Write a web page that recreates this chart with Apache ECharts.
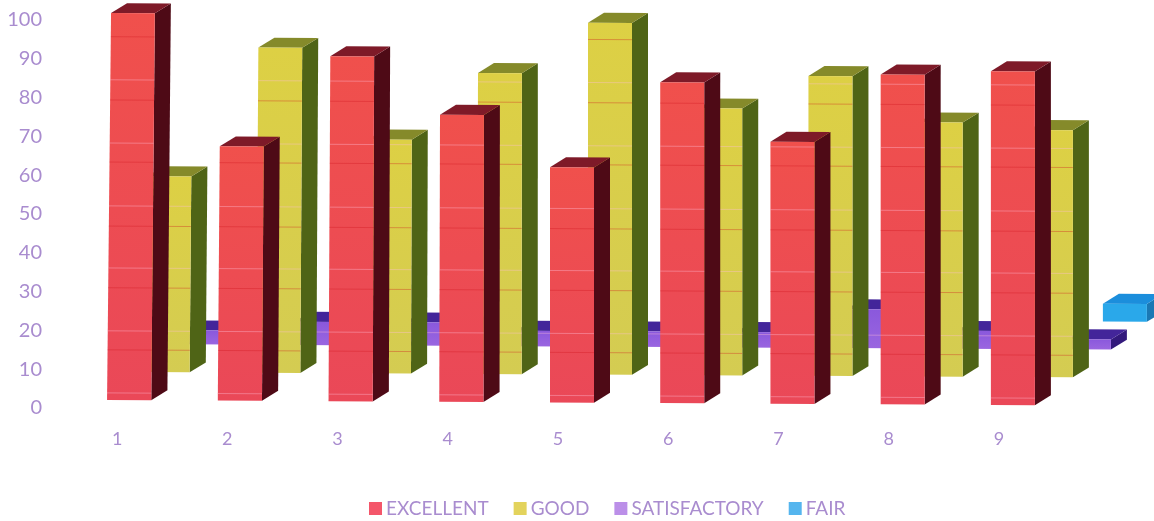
<!DOCTYPE html>
<html><head><meta charset="utf-8">
<style>html,body{margin:0;padding:0;background:#fff;overflow:hidden}#c{width:1154px;height:521px}</style>
<script src="https://cdn.jsdelivr.net/npm/echarts@6/dist/echarts.min.js"></script>
</head><body><div id="c"></div>
<script>
const categories = ['1','2','3','4','5','6','7','8','9'];
const yTicks = [0,10,20,30,40,50,60,70,80,90,100];
const excellent = [99.7,65.5,88.9,74,60.6,82.7,67.5,85,86];
const good = [50.5,83.8,60.3,77.6,90.7,68.8,77.3,65.5,63.7];
const satisfactory = [3.6,6,6,4,4,4,10,4.6,2.6];
const fair = [4.6,4.6,4.6,4.6,4.6,4.6,4.6,4.6,4.6];
const paleLevels = [1.8,17.8,34,50,66.2,82.5];
const darkLevels = [12.9,28.9,44.8,61.3,77.3,93.6];

const FONT = 'Lato';
const LABEL = '#a98ccf';
const BAR_W = 44, DEPTH_X = 16, DEPTH_Y = 10;
const looks = {
  EXCELLENT:    {dx:14, dy:-8,  front:['#f0504c','#ea4858'], top:'#7e1a28', side:'#4e0a16', key:'#f4566a'},
  GOOD:         {dx:52, dy:-36, front:['#ddd044','#d4cc52'], top:'#858a2a', side:'#4f6416', key:'#e3d35c'},
  SATISFACTORY: {dx:90, dy:-64, front:['#8a58dc','#9a66e0'], top:'#43259a', side:'#33197c', key:'#bb8fe8'},
  FAIR:         {dx:126,dy:-92, front:['#2aa8ea','#2aa8ea'], top:'#1b8edc', side:'#1a78b4', key:'#55b5ee'}
};

function warp(x, y) {
  const lean = Math.max(0, (550 - x) / 440) * 0.0103;
  return [x - lean * (y - 200), y + 0.0057 * (x - 130)];
}
function poly(pts, fill) {
  return {type:'polygon', silent:true, shape:{points:pts.map(p => warp(p[0], p[1]))}, style:{fill}};
}
function makeRender(name) {
  const k = looks[name];
  return function (params, api) {
    const cat = api.value(0), val = api.value(1);
    const base = api.coord([cat, 0]), tip = api.coord([cat, val]);
    const l = base[0] + k.dx - BAR_W / 2, r = l + BAR_W;
    const b = base[1] + k.dy, t = tip[1] + k.dy;
    const kids = [
      poly([[r,t],[r+DEPTH_X,t-DEPTH_Y],[r+DEPTH_X,b-DEPTH_Y],[r,b]], k.side),
      poly([[l,t],[l+DEPTH_X,t-DEPTH_Y],[r+DEPTH_X,t-DEPTH_Y],[r,t]], k.top),
      poly([[l,t],[r,t],[r,b],[l,b]], {type:'linear',x:0,y:0,x2:0,y2:1,colorStops:[{offset:0,color:k.front[0]},{offset:1,color:k.front[1]}]})
    ];
    const band = (levels, colour) => levels.forEach(v => {
      const y = api.coord([cat, v])[1] + looks.EXCELLENT.dy;
      if (y > t + 1 && y < b - 1) {
        const a = warp(l, y), c = warp(r, y);
        kids.push({type:'line', silent:true, shape:{x1:a[0],y1:a[1],x2:c[0],y2:c[1]}, style:{stroke:colour,lineWidth:1}});
      }
    });
    band(paleLevels, 'rgba(255,190,215,0.4)');
    band(darkLevels, 'rgba(205,20,30,0.35)');
    return {type:'group', children:kids};
  };
}
const seriesFor = (name, values) => ({
  name, type:'custom', renderItem:makeRender(name), clip:false,
  encode:{x:0,y:1}, itemStyle:{color:looks[name].key},
  data:values.map((v,i) => [i,v])
});
const chart = echarts.init(document.getElementById('c'), null, {renderer:'canvas'});
chart.setOption({
  animation:false, backgroundColor:'#fff',
  textStyle:{fontFamily:FONT},
  grid:{left:62, width:992, top:20, height:388},
  xAxis:{type:'category', data:categories, axisLine:{show:false}, axisTick:{show:false},
    axisLabel:{color:LABEL, fontSize:18, fontFamily:FONT, margin:22}},
  yAxis:{type:'value', min:yTicks[0], max:yTicks[yTicks.length-1], interval:10, splitLine:{show:false},
    axisLine:{show:false}, axisTick:{show:false},
    axisLabel:{color:LABEL, fontSize:20, fontFamily:FONT, margin:20}},
  legend:{left:369, top:499, icon:'rect', itemWidth:13, itemHeight:13, itemGap:25, padding:0,
    data:['EXCELLENT','GOOD','SATISFACTORY','FAIR'],
    textStyle:{color:LABEL, fontSize:19, fontFamily:FONT, padding:[0,0,0,-1]}},
  series:[seriesFor('FAIR',fair), seriesFor('SATISFACTORY',satisfactory), seriesFor('GOOD',good), seriesFor('EXCELLENT',excellent)]
});
</script></body></html>
